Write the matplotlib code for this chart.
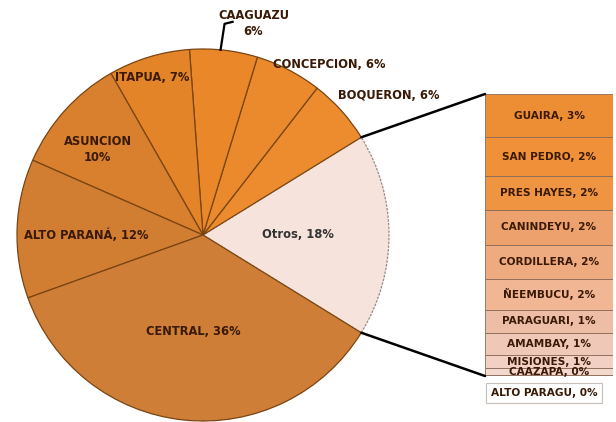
import numpy as np
import matplotlib.pyplot as plt
from matplotlib.patches import ConnectionPatch

# main pie (counter-clockwise from the "Otros" wedge)
pie_labels = ['BOQUERON', 'CONCEPCION', 'CAAGUAZU', 'ITAPUA', 'ASUNCION',
              'ALTO PARANÁ', 'CENTRAL']
pie_values = [5.7, 5.8, 5.9, 7.1, 10.2, 12.1, 35.8]
pie_colors = ['#EC8C2E', '#EB8A2C', '#E98729', '#E38429', '#D9802E',
              '#D17E33', '#CE7E36']

# breakdown of "Otros" (top to bottom in the bar)
bar_labels = ['GUAIRA', 'SAN PEDRO', 'PRES HAYES', 'CANINDEYU', 'CORDILLERA',
              'ÑEEMBUCU', 'PARAGUARI', 'AMAMBAY', 'MISIONES', 'CAAZAPA',
              'ALTO PARAGU']
bar_values = [2.7, 2.45, 2.1, 2.2, 2.1, 1.95, 1.45, 1.4, 0.8, 0.45, 0.05]
bar_colors = ['#EE8E34', '#F0913A', '#EF9440', '#EDA26E', '#EEAB80',
              '#F1B795', '#EEBDA5', '#F0C8B8', '#F2D0C4', '#F3D8CE', '#F5E0D8']

otros = sum(bar_values)
total = otros + sum(pie_values)
txt = '#3A1A06'

fig = plt.figure(figsize=(6.16, 4.22), dpi=100)
ax = fig.add_axes([0, 0, 1, 1])

cx, cy, R = 203, 187, 186
vals = [otros] + pie_values
cols = ['#F6E4DC'] + pie_colors
start = -otros / total * 360 / 2
wedges, _ = ax.pie(vals, colors=cols, center=(cx, cy), radius=R,
                   startangle=start, counterclock=True, frame=True,
                   wedgeprops=dict(edgecolor='#7A4512', linewidth=0.9))
ax.set_xlim(0, 616)
ax.set_ylim(0, 422)
ax.set_aspect('equal')
ax.axis('off')
wedges[0].set_edgecolor('#9A8A84')
wedges[0].set_linestyle((0, (2, 1)))

# label placement: (distance factor, angle tweak, text)
names = ['Otros'] + pie_labels
place = {
    'Otros': (0.51, 0, 'Otros, {}%'),
    'BOQUERON': (1.25, -5, 'BOQUERON, {}%'),
    'CONCEPCION': (1.14, -9, 'CONCEPCION, {}%'),
    'CAAGUAZU': (1.17, -7, 'CAAGUAZU\n{}%'),
    'ITAPUA': (0.89, 1, 'ITAPUA, {}%'),
    'ASUNCION': (0.73, 3, 'ASUNCION\n{}%'),
    'ALTO PARANÁ': (0.63, 2, 'ALTO PARANÁ, {}%'),
    'CENTRAL': (0.52, 0, 'CENTRAL, {}%'),
}
for w, name, v in zip(wedges, names, vals):
    mid = (w.theta1 + w.theta2) / 2
    d, tw, fmt = place[name]
    a = np.deg2rad(mid + tw)
    x, y = cx + d * R * np.cos(a), cy + d * R * np.sin(a)
    ax.text(x, y, fmt.format(round(v / total * 100)), ha='center', va='center',
            fontsize=8.3, fontweight='bold', color=txt if name != 'Otros' else '#333333',
            linespacing=1.35)
    if name == 'CAAGUAZU':
        a0 = np.deg2rad(mid + 1)
        ex, ey = cx + R * np.cos(a0), cy + R * np.sin(a0)
        ax.plot([ex, ex + 4, ex + 12], [ey, ey + 26, ey + 28], color='black', lw=1.6)

# bar of the breakdown
ax2 = fig.add_axes([485 / 616, (422 - 376) / 422, 128 / 616, 282 / 422])
ax2.set_xlim(-0.5, 0.5)
ax2.set_ylim(0, otros)
ax2.axis('off')
bottom = 0
for lab, v, c in zip(bar_labels[::-1], bar_values[::-1], bar_colors[::-1]):
    ax2.bar(0, v, width=1, bottom=bottom, color=c, edgecolor='#8A6A58', linewidth=0.6)
    if lab != 'ALTO PARAGU':
        ax2.text(0, bottom + v / 2, f'{lab}, {round(v / total * 100)}%', ha='center',
                 va='center', fontsize=7.6, fontweight='bold', color=txt)
    bottom += v
ax2.annotate(f'ALTO PARAGU, {round(bar_values[-1] / total * 100)}%', xy=(-0.5, 0),
             xytext=(6, -17), textcoords='offset pixels', ha='left', va='center',
             fontsize=7.6, fontweight='bold', color=txt, annotation_clip=False,
             bbox=dict(boxstyle='square,pad=0.45', fc='white', ec='#C8BEB8', lw=0.8))

# connector lines from the "Otros" wedge to the bar
for ang, yb in [(wedges[0].theta2, otros), (wedges[0].theta1, 0)]:
    a = np.deg2rad(ang)
    p = (cx + R * np.cos(a), cy + R * np.sin(a))
    con = ConnectionPatch(xyA=p, coordsA=ax.transData, xyB=(-0.5, yb),
                          coordsB=ax2.transData, color='black', lw=1.8)
    fig.add_artist(con)

fig.savefig('out.png', dpi=100)
